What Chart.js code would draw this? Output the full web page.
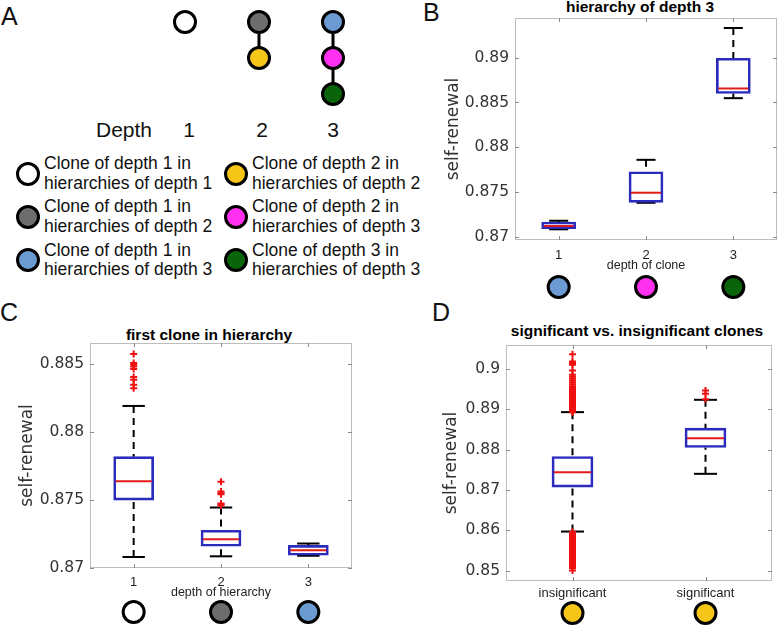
<!DOCTYPE html>
<html>
<head>
<meta charset="utf-8">
<script src="https://cdn.jsdelivr.net/npm/chart.js@4.4.1/dist/chart.umd.min.js"></script>
<style>
  body { margin: 0; background: #fff; width: 778px; height: 626px; position: relative; overflow: hidden;
         font-family: "Liberation Sans", Arial, sans-serif; color: #111; }
  canvas { position: absolute; }
  .letter { position: absolute; font-size: 25px; line-height: 25px; }
  .ttl { position: absolute; font-weight: bold; font-size: 15.5px; white-space: nowrap; transform: translate(-50%, -50%); color: #000; }
  .dot { position: absolute; width: 18px; height: 18px; border: 3px solid #000; border-radius: 50%; transform: translate(-50%, -50%); }
  .txt { position: absolute; font-size: 17.5px; line-height: 19.5px; white-space: nowrap; }
  .depth { position: absolute; font-size: 21px; transform: translate(-50%, -50%); }
</style>
</head>
<body>

<div class="letter" style="left:1px;top:4px">A</div>
<div class="letter" style="left:423px;top:0px">B</div>
<div class="letter" style="left:0px;top:300px">C</div>
<div class="letter" style="left:432px;top:300px">D</div>

<canvas id="tree" width="222" height="108" style="left:148px;top:4px"></canvas>
<div class="depth" style="left:124px;top:130px">Depth</div>
<div class="depth" style="left:189px;top:130px">1</div>
<div class="depth" style="left:262px;top:130px">2</div>
<div class="depth" style="left:333px;top:130px">3</div>
<div id="legendA"></div>

<div class="ttl" style="left:640px;top:7px">hierarchy of depth 3</div>
<canvas id="chartB" width="378" height="300" style="left:400px;top:0px"></canvas>

<div class="ttl" style="left:209px;top:335px">first clone in hierarchy</div>
<canvas id="chartC" width="400" height="326" style="left:0px;top:300px"></canvas>

<div class="ttl" style="left:637px;top:331px">significant vs. insignificant clones</div>
<canvas id="chartD" width="378" height="326" style="left:400px;top:300px"></canvas>

<script>
// clone colours
const WHITE = '#ffffff', GRAY = '#6d6d6d', BLUE = '#6b9bd2', YELLOW = '#f5c518', MAGENTA = '#ff30f0', GREEN = '#0a640a';

// panel A: hierarchy schematic (depth column, level within hierarchy)
const treeDepth = [1, 2, 2, 3, 3, 3];
const treeLevel = [1, 1, 2, 1, 2, 3];
const treeColors = [WHITE, GRAY, YELLOW, BLUE, MAGENTA, GREEN];

const legendLines = [
  ['Clone of depth 1 in', 'hierarchies of depth 1'],
  ['Clone of depth 1 in', 'hierarchies of depth 2'],
  ['Clone of depth 1 in', 'hierarchies of depth 3'],
  ['Clone of depth 2 in', 'hierarchies of depth 2'],
  ['Clone of depth 2 in', 'hierarchies of depth 3'],
  ['Clone of depth 3 in', 'hierarchies of depth 3']
];
const legendColors = [WHITE, GRAY, BLUE, YELLOW, MAGENTA, GREEN];

// panel B: hierarchy of depth 3
const bCats = ['1', '2', '3'];
const bQ1 = [0.87096, 0.87389, 0.8860];
const bQ3 = [0.8717, 0.87729, 0.88992];
const bMed = [0.87126, 0.87496, 0.88656];
const bLo = [0.87089, 0.87384, 0.88548];
const bHi = [0.87184, 0.87862, 0.89329];
const bTicks = [0.87, 0.875, 0.88, 0.885, 0.89];
const bMarks = [BLUE, MAGENTA, GREEN];

// panel C: first clone in hierarchy
const cCats = ['1', '2', '3'];
const cQ1 = [0.87499, 0.8716, 0.87094];
const cQ3 = [0.87819, 0.87278, 0.87167];
const cMed = [0.87639, 0.87212, 0.8713];
const cLo = [0.87081, 0.87086, 0.8709];
const cHi = [0.88192, 0.87445, 0.8718];
const cOut1 = [0.88574, 0.88507, 0.88495, 0.88482, 0.88463, 0.88404, 0.88384, 0.88347, 0.88323];
const cOut2 = [0.87634, 0.87562, 0.8755, 0.87543, 0.87475, 0.87468, 0.8746];
const cTicks = [0.87, 0.875, 0.88, 0.885];
const cMarks = [WHITE, GRAY, BLUE];

// panel D: significant vs. insignificant clones
const dCats = ['insignificant', 'significant'];
const dQ1 = [0.87071, 0.88054];
const dQ3 = [0.87831, 0.88536];
const dMed = [0.87443, 0.88287];
const dLo = [0.85968, 0.87401];
const dHi = [0.88933, 0.89239];
const dOutInsig = [
  0.90373, 0.90189, 0.90150, 0.90107, 0.89966,
  0.89859, 0.8981, 0.8976, 0.8971, 0.8966, 0.8961, 0.8956, 0.8951, 0.8946, 0.8941,
  0.8936, 0.8931, 0.8926, 0.8921, 0.8916, 0.8911, 0.8906, 0.8901, 0.8896, 0.8893,
  0.8596, 0.8591, 0.8586, 0.8581, 0.8576, 0.8571, 0.8566, 0.8561, 0.8556, 0.8551,
  0.8546, 0.8541, 0.8536, 0.8531, 0.8526, 0.8521, 0.8516, 0.8511, 0.8506, 0.8500
];
const dOutSig = [0.8947, 0.89388, 0.89255];
const dTicks = [0.85, 0.86, 0.87, 0.88, 0.89, 0.9];
const dMarks = [YELLOW, YELLOW];

// legend of panel A
const legendEl = document.getElementById('legendA');
legendLines.forEach((lines, i) => {
  const col = Math.floor(i / 3), row = i % 3;
  const dx = col === 0 ? 28 : 236;
  const ty = 154 + row * 43.3;
  legendEl.insertAdjacentHTML('beforeend',
    `<div class="dot" style="left:${dx}px;top:${ty + 19.5}px;background:${legendColors[i]}"></div>` +
    `<div class="txt" style="left:${dx + 16}px;top:${ty}px">${lines[0]}<br>${lines[1]}</div>`);
});

new Chart(document.getElementById('tree'), {
  type: 'scatter',
  data: {
    datasets: [
      {
        data: treeDepth.map((d, i) => ({x: d, y: treeLevel[i]})),
        pointRadius: 10.5, pointBorderWidth: 3, borderColor: '#000',
        pointBackgroundColor: treeColors, showLine: false, clip: false, order: 0
      },
      {
        data: [{x: 2, y: 1}, {x: 2, y: 2}],
        showLine: true, borderColor: '#000', borderWidth: 3, pointRadius: 0, clip: false, order: 1
      },
      {
        data: [{x: 3, y: 1}, {x: 3, y: 3}],
        showLine: true, borderColor: '#000', borderWidth: 3, pointRadius: 0, clip: false, order: 1
      }
    ]
  },
  options: {
    responsive: false, animation: false,
    layout: {autoPadding: false, padding: 0},
    plugins: {legend: {display: false}, tooltip: {enabled: false}},
    scales: {
      x: {display: false, min: 0.5, max: 3.5},
      y: {display: false, min: 0.5, max: 3.5, reverse: true}
    }
  }
});

function line(ctx, x1, y1, x2, y2) {
  ctx.beginPath();
  ctx.moveTo(x1, y1);
  ctx.lineTo(x2, y2);
  ctx.stroke();
}

function boxChart(id, s) {
  const extras = {
    id: 'boxExtras',
    beforeDatasetsDraw(chart) {
      const {ctx, scales: {x, y}} = chart;
      const bars = chart.getDatasetMeta(0).data;
      ctx.save();
      ctx.strokeStyle = '#000';
      ctx.lineWidth = 2;
      s.cats.forEach((c, i) => {
        const cx = x.getPixelForValue(i);
        const cap = bars[i].width * 0.28;
        ctx.setLineDash([7, 5]);
        line(ctx, cx, y.getPixelForValue(s.hi[i]), cx, y.getPixelForValue(s.q3[i]));
        line(ctx, cx, y.getPixelForValue(s.lo[i]), cx, y.getPixelForValue(s.q1[i]));
        ctx.setLineDash([]);
        line(ctx, cx - cap, y.getPixelForValue(s.hi[i]), cx + cap, y.getPixelForValue(s.hi[i]));
        line(ctx, cx - cap, y.getPixelForValue(s.lo[i]), cx + cap, y.getPixelForValue(s.lo[i]));
      });
      ctx.restore();
    },
    afterDatasetsDraw(chart) {
      const {ctx, scales: {x, y}} = chart;
      const bars = chart.getDatasetMeta(0).data;
      ctx.save();
      ctx.strokeStyle = '#e41a1a';
      ctx.lineWidth = 2;
      s.med.forEach((m, i) => {
        const cx = x.getPixelForValue(i);
        const hw = bars[i].width / 2 - 2;
        line(ctx, cx - hw, y.getPixelForValue(m), cx + hw, y.getPixelForValue(m));
      });
      ctx.restore();
    },
    afterDraw(chart) {
      const {ctx, chartArea: a, scales: {x, y}} = chart;
      ctx.save();
      // axes frame with inward ticks
      ctx.strokeStyle = '#bdbdbd';
      ctx.lineWidth = 1;
      ctx.strokeRect(a.left + 0.5, a.top + 0.5, a.width - 1, a.height - 1);
      ctx.strokeStyle = '#8a8a8a';
      y.ticks.forEach(t => {
        const py = Math.round(y.getPixelForValue(t.value)) + 0.5;
        line(ctx, a.left, py, a.left + 4, py);
        line(ctx, a.right - 4, py, a.right, py);
      });
      s.cats.forEach((c, i) => {
        const px = Math.round(x.getPixelForValue(i)) + 0.5;
        line(ctx, px, a.bottom, px, a.bottom - 4);
        line(ctx, px, a.top, px, a.top + 4);
      });
      // clone markers under the axis
      ctx.strokeStyle = '#000';
      ctx.lineWidth = 3;
      s.marks.forEach((col, i) => {
        ctx.beginPath();
        ctx.arc(x.getPixelForValue(i), a.bottom + s.markDy, 10.5, 0, Math.PI * 2);
        ctx.fillStyle = col;
        ctx.fill();
        ctx.stroke();
      });
      ctx.restore();
    }
  };

  return new Chart(document.getElementById(id), {
    type: 'bar',
    data: {
      labels: s.cats,
      datasets: [
        {
          data: s.q1.map((v, i) => [v, s.q3[i]]),
          backgroundColor: 'rgba(255,255,255,0)',
          borderColor: '#2b2bbd', borderWidth: 2, borderSkipped: false,
          barThickness: s.boxW, order: 1
        },
        {
          type: 'line', data: s.out, showLine: false,
          pointStyle: 'cross', pointRadius: 3.5, pointBorderWidth: 2,
          borderColor: '#f01010', backgroundColor: '#f01010', order: 0
        }
      ]
    },
    options: {
      responsive: false, animation: false,
      layout: {padding: {top: s.padTop, right: s.padRight, left: 0, bottom: 0}},
      plugins: {legend: {display: false}, tooltip: {enabled: false}},
      scales: {
        x: {
          grid: {display: false, drawTicks: false}, border: {display: false},
          ticks: {padding: s.xTickPad, color: '#222', font: {family: 'Liberation Sans', size: 13}},
          title: {
            display: !!s.xTitle, text: s.xTitle, color: '#222',
            font: {family: 'Liberation Sans', size: 12.5}, padding: {top: 0, bottom: s.xTitlePad}
          },
          afterFit: sc => { sc.height = s.xH; }
        },
        y: {
          min: s.min, max: s.max, bounds: 'data',
          grid: {display: false, drawTicks: false}, border: {display: false},
          ticks: {
            padding: 6, color: '#333',
            font: {family: 'DejaVu Sans', size: 15.5},
            callback: v => String(parseFloat(v.toFixed(3)))
          },
          afterBuildTicks: sc => { sc.ticks = s.ticks.map(v => ({value: v})); },
          title: {
            display: true, text: 'self-renewal', color: '#333',
            font: {family: 'DejaVu Sans', size: 17}, padding: {top: s.yTitlePad, bottom: 0}
          },
          afterFit: sc => { sc.width = s.yW; }
        }
      }
    },
    plugins: [extras]
  });
}

boxChart('chartB', {
  cats: bCats, q1: bQ1, q3: bQ3, med: bMed, lo: bLo, hi: bHi, out: [], marks: bMarks,
  min: 0.8697, max: 0.8944, ticks: bTicks,
  boxW: 34, padTop: 18, padRight: 1, yW: 115, xH: 60, yTitlePad: 43,
  xTickPad: 8, xTitle: 'depth of clone', xTitlePad: 27, markDy: 47
});

boxChart('chartC', {
  cats: cCats, q1: cQ1, q3: cQ3, med: cMed, lo: cLo, hi: cHi,
  out: cOut1.map(v => ({x: '1', y: v})).concat(cOut2.map(v => ({x: '2', y: v}))),
  marks: cMarks,
  min: 0.87, max: 0.88655, ticks: cTicks,
  boxW: 40, padTop: 43, padRight: 48, yW: 90, xH: 58, yTitlePad: 17,
  xTickPad: 7, xTitle: 'depth of hierarchy', xTitlePad: 26, markDy: 44
});

boxChart('chartD', {
  cats: dCats, q1: dQ1, q3: dQ3, med: dMed, lo: dLo, hi: dHi,
  out: dOutInsig.map(v => ({x: 'insignificant', y: v})).concat(dOutSig.map(v => ({x: 'significant', y: v}))),
  marks: dMarks,
  min: 0.8474, max: 0.9060, ticks: dTicks,
  boxW: 41, padTop: 45, padRight: 1, yW: 106, xH: 45, yTitlePad: 41,
  xTickPad: 5, xTitle: '', xTitlePad: 0, markDy: 32
});
</script>
</body>
</html>
